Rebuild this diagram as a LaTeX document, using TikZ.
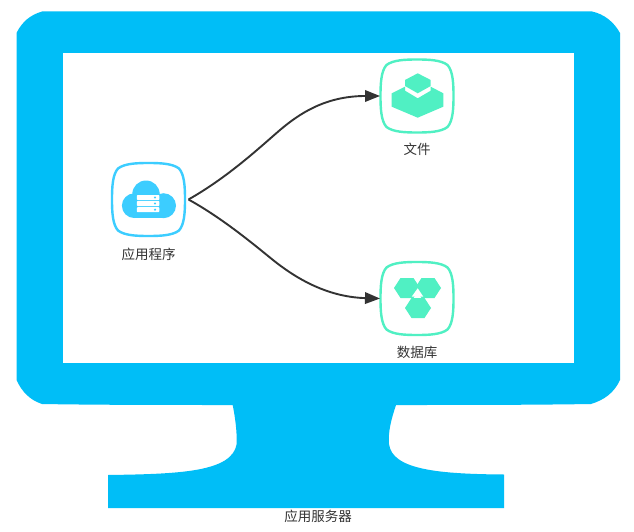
\documentclass[tikz,border=0pt]{standalone}
\usepackage{fontspec}
\setmainfont{Noto Sans CJK SC}
\usetikzlibrary{arrows.meta}
\definecolor{monitor}{RGB}{0,190,247}
\definecolor{skyc}{RGB}{60,205,255}
\definecolor{mint}{RGB}{80,240,195}
\definecolor{ink}{RGB}{51,51,51}
\tikzset{
  cardbox/.style={minimum width=74pt,minimum height=74pt,inner sep=0pt,outer sep=0pt},
  appbox/.style={minimum width=80pt,minimum height=74pt,inner sep=0pt,outer sep=0pt},
  lbl/.style={text=ink,font=\fontsize{13.5}{15}\selectfont,inner sep=0pt},
  flow/.style={draw=ink,line width=1.9pt,-{Triangle[length=15pt,width=11.5pt]}},
  screenfill/.style={fill=white},
  monfill/.style={fill=monitor},
}
\newcommand{\squirc}[2]{%
  \draw[#2,line width=2.4pt,shift={(#1)}]
    (0,-36.5) .. controls (12,-36.5) and (24,-36) .. (30.5,-31)
    .. controls (36,-25) and (36.5,-12) .. (36.5,0)
    .. controls (36.5,12) and (36,25) .. (30.5,31)
    .. controls (24,36) and (12,36.5) .. (0,36.5)
    .. controls (-12,36.5) and (-24,36) .. (-30.5,31)
    .. controls (-36,25) and (-36.5,12) .. (-36.5,0)
    .. controls (-36.5,-12) and (-36,-25) .. (-30.5,-31)
    .. controls (-24,-36) and (-12,-36.5) .. (0,-36.5) -- cycle;}
\begin{document}
\begin{tikzpicture}[x=1pt,y=-1pt]
\useasboundingbox (0,0) rectangle (634,532);
\fill[white] (0,0) rectangle (634,532);
% monitor
\path[monfill] (42,11.5) -- (592,11.5)
  .. controls (604,14) and (614,22) .. (620,33)
  -- (620,380)
  .. controls (614,393) and (604,400) .. (591,404)
  .. controls (530,405) and (460,405) .. (396,405)
  .. controls (391,420) and (388,432) .. (389,444)
  .. controls (392,470) and (440,474) .. (504,474.5)
  -- (504,508) -- (108,508) -- (108,475)
  .. controls (180,474) and (232,472) .. (236.7,444)
  .. controls (237,430) and (235,417) .. (232.7,405)
  .. controls (170,405) and (100,405) .. (42,404)
  .. controls (30,400) and (22,392) .. (16.5,380)
  -- (16.5,33)
  .. controls (22,22) and (30,15) .. (42,11.5) -- cycle;
\path[screenfill] (63,53) rectangle (574,362.5);
% nodes
\node[appbox] (app) at (148.5,199.5) {};
\node[cardbox] (file) at (417,96) {};
\node[cardbox] (db) at (417,298.5) {};
\squirc{app.center}{draw=skyc}
\squirc{file.center}{draw=mint}
\squirc{db.center}{draw=mint}
\node[lbl] (applbl) at (148.5,254) {应用程序};
\node[lbl] (filelbl) at (417,149) {文件};
\node[lbl] (dblbl) at (417,352) {数据库};
\node[lbl] (srv) at (318,516) {应用服务器};
% cloud icon
\fill[skyc] (134.2,205.7) circle (12.3) (163.5,205.7) circle (12.5) (146,194.2) circle (13.7);
\fill[skyc] (134,198) rectangle (164,218);
\foreach \yy in {195,201,207.2}{
  \fill[white,rounded corners=0.8pt] (136.8,\yy) rectangle (159.3,\yy+5);
  \fill[skyc] (155,\yy+2.5) circle (1.2);
}
% cube icon
\fill[mint] (417.7,73.3) -- (430.7,80) -- (430.7,86) -- (417.7,93.3) -- (405,86) -- (405,80) -- cycle;
\fill[mint] (405,86.7) -- (405,90.7) -- (417.7,98.3) -- (430.7,90.7) -- (430.7,86.7)
  -- (443.3,93.3) -- (443.3,106.7) -- (417.7,117.7) -- (391.7,106.7) -- (391.7,93.3) -- cycle;
% hex icon
\fill[mint] (394,288) -- (400.5,278) -- (413.5,278) -- (420,288) -- (413.5,298) -- (400.5,298) -- cycle;
\fill[mint] (415,288) -- (421.5,278) -- (434.5,278) -- (441,288) -- (434.5,298) -- (421.5,298) -- cycle;
\fill[mint] (405,308) -- (411.5,298) -- (424.5,298) -- (431,308) -- (424.5,318) -- (411.5,318) -- cycle;
\fill[white] (417.7,288.3) -- (423.3,296.7) -- (411.7,296.7) -- cycle;
% connectors
\coordinate (m1) at (280,130);
\coordinate (m2) at (273,260);
\draw[flow] (app.east) .. controls (228,177) and (258,149) .. (m1)
  .. controls (299,114) and (325,96) .. (file.west);
\draw[flow] (app.east) .. controls (222,218) and (252,243) .. (m2)
  .. controls (293,276) and (325,297) .. (db.west);
\end{tikzpicture}
\end{document}
